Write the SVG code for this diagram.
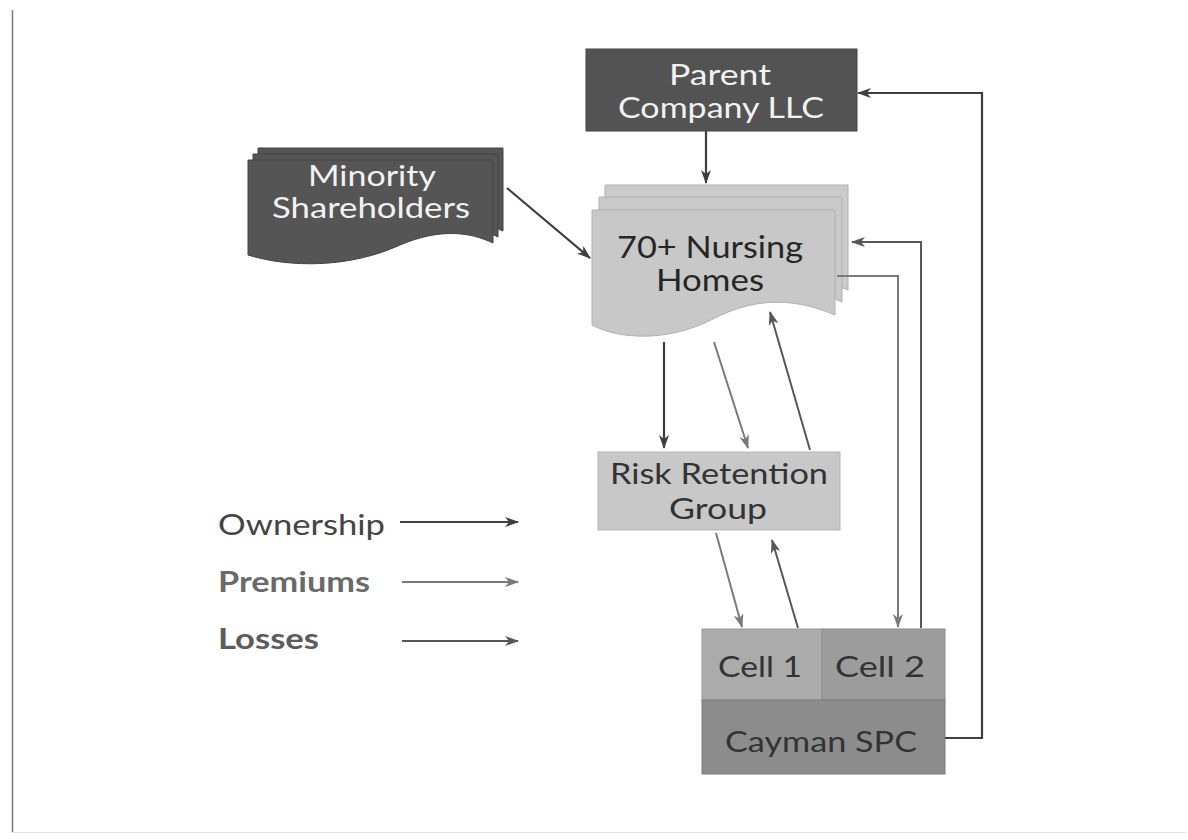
<svg xmlns="http://www.w3.org/2000/svg" width="1188" height="840" viewBox="0 0 1188 840">
<style>
.t{font-family:Lato,"Open Sans","Liberation Sans",sans-serif;text-anchor:middle}
.w{fill:#f2f2f2}
.d{fill:#262626}
.leg{font-family:Lato,"Open Sans","Liberation Sans",sans-serif;font-size:28px}
.own{stroke:#3f3f3f;stroke-width:2.2;fill:none}
.prem{stroke:#7a7a7a;stroke-width:2;fill:none}
.loss{stroke:#575757;stroke-width:2;fill:none}
</style>
<defs>
<marker id="aOwn" viewBox="0 0 14 10" refX="13" refY="5" markerWidth="14" markerHeight="10" markerUnits="userSpaceOnUse" orient="auto"><path d="M0,0 L14,5 L0,10 L4,5 Z" fill="#3f3f3f"/></marker>
<marker id="aPrem" viewBox="0 0 14 10" refX="13" refY="5" markerWidth="14" markerHeight="10" markerUnits="userSpaceOnUse" orient="auto"><path d="M0,0 L14,5 L0,10 L4,5 Z" fill="#7a7a7a"/></marker>
<marker id="aLoss" viewBox="0 0 14 10" refX="13" refY="5" markerWidth="14" markerHeight="10" markerUnits="userSpaceOnUse" orient="auto"><path d="M0,0 L14,5 L0,10 L4,5 Z" fill="#575757"/></marker>
<path id="msDoc" d="M0,0 H245 V83 C222,72 192,68 152,85 C102,108 42,108 0,95 Z"/>
<path id="nhDoc" d="M0,0 H243 V105 C208,90 168,85 123,108 C78,132 28,130 0,115 Z"/>
</defs>
<rect width="1188" height="840" fill="#ffffff"/>
<g id="frame" fill="none">
<line x1="12.5" y1="10" x2="12.5" y2="833" stroke="#7a7a7a" stroke-width="1.5"/>
<line x1="12" y1="832.5" x2="1186" y2="832.5" stroke="#e2e2e2"/>
</g>

<g id="parent">
<rect x="586" y="49" width="271" height="82" fill="#535353" stroke="#444"/>
<text class="t w" x="720" y="85" font-size="29" textLength="102" lengthAdjust="spacingAndGlyphs">Parent</text>
<text class="t w" x="721" y="118" font-size="29" textLength="206" lengthAdjust="spacingAndGlyphs">Company LLC</text>
</g>

<g id="minority">
<use href="#msDoc" x="258" y="148" fill="#555" stroke="#444"/>
<use href="#msDoc" x="253" y="154" fill="#555" stroke="#444"/>
<use href="#msDoc" x="248" y="160" fill="#555" stroke="#444"/>
<text class="t w" x="372" y="186" font-size="29" textLength="128" lengthAdjust="spacingAndGlyphs">Minority</text>
<text class="t w" x="371" y="218" font-size="29" textLength="198" lengthAdjust="spacingAndGlyphs">Shareholders</text>
</g>

<g id="nursing">
<use href="#nhDoc" x="605" y="185" fill="#cbcbcb" stroke="#b0b0b0"/>
<use href="#nhDoc" x="599" y="197" fill="#c9c9c9" stroke="#b0b0b0"/>
<use href="#nhDoc" x="592" y="210" fill="#c8c8c8" stroke="#b0b0b0"/>
<text class="t d" x="710" y="258" font-size="30" textLength="186" lengthAdjust="spacingAndGlyphs">70+ Nursing</text>
<text class="t d" x="710" y="291" font-size="30" textLength="108" lengthAdjust="spacingAndGlyphs">Homes</text>
</g>

<g id="rrg">
<rect x="598" y="452" width="242" height="78" fill="#c8c8c8" stroke="#b5b5b5"/>
<text class="t" x="719" y="484" font-size="28" fill="#333" textLength="218" lengthAdjust="spacingAndGlyphs">Risk Retention</text>
<text class="t" x="718" y="519" font-size="28" fill="#333" textLength="98" lengthAdjust="spacingAndGlyphs">Group</text>
</g>

<g id="cell1">
<rect x="702" y="629" width="120" height="71" fill="#ababab" stroke="#999"/>
<text class="t" x="760" y="677" font-size="28" fill="#333" textLength="84" lengthAdjust="spacingAndGlyphs">Cell 1</text>
</g>
<g id="cell2">
<rect x="822" y="629" width="123" height="71" fill="#9c9c9c" stroke="#8c8c8c"/>
<text class="t" x="880" y="677" font-size="28" fill="#333" textLength="90" lengthAdjust="spacingAndGlyphs">Cell 2</text>
</g>
<g id="cayman">
<rect x="702" y="700" width="243" height="74" fill="#8c8c8c" stroke="#7c7c7c"/>
<text class="t" x="821" y="752" font-size="28" fill="#333" textLength="192" lengthAdjust="spacingAndGlyphs">Cayman SPC</text>
</g>

<g id="legend">
<text class="leg" x="218" y="535" fill="#444" textLength="167" lengthAdjust="spacingAndGlyphs">Ownership</text>
<text class="leg" x="218" y="592" fill="#6a6a6a" font-weight="700" textLength="152" lengthAdjust="spacingAndGlyphs">Premiums</text>
<text class="leg" x="218" y="649" fill="#5c5c5c" font-weight="700" textLength="101" lengthAdjust="spacingAndGlyphs">Losses</text>
</g>

<g id="connectors">
<line class="own" x1="706" y1="131" x2="706" y2="183" marker-end="url(#aOwn)"/>
<line class="own" x1="507" y1="188" x2="590" y2="258" marker-end="url(#aOwn)"/>
<line class="own" x1="664" y1="342" x2="664" y2="448" marker-end="url(#aOwn)"/>
<line class="prem" x1="714" y1="342" x2="748" y2="448" marker-end="url(#aPrem)"/>
<line class="loss" x1="810" y1="450" x2="770" y2="312" marker-end="url(#aLoss)"/>
<line class="prem" x1="716" y1="533" x2="742" y2="627" marker-end="url(#aPrem)"/>
<line class="loss" x1="798" y1="628" x2="772" y2="540" marker-end="url(#aLoss)"/>
<polyline class="prem" points="837,276 898,276 898,627" marker-end="url(#aPrem)"/>
<polyline class="loss" points="921,628 921,242 852,242" marker-end="url(#aLoss)"/>
<polyline class="own" points="945,738 982,738 982,93 858,93" marker-end="url(#aOwn)"/>
<line class="own" x1="400" y1="522" x2="518" y2="522" marker-end="url(#aOwn)"/>
<line class="prem" x1="402" y1="582" x2="518" y2="582" marker-end="url(#aPrem)"/>
<line class="loss" x1="402" y1="641" x2="518" y2="641" marker-end="url(#aLoss)"/>
</g>
</svg>
